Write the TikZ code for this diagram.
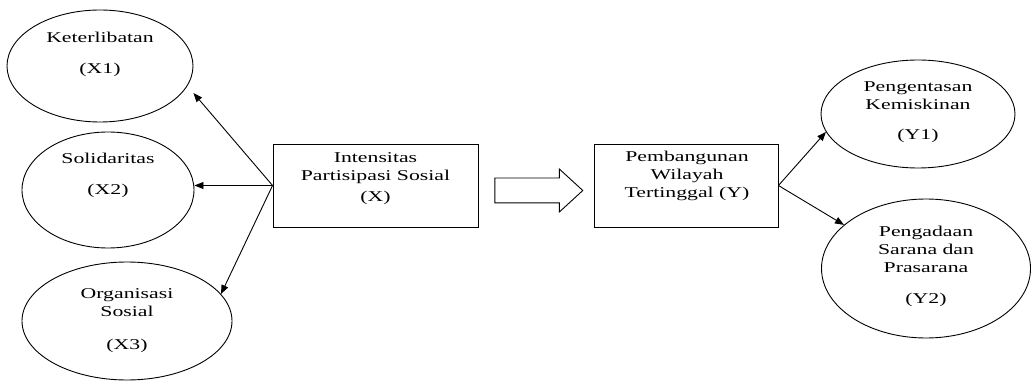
\documentclass[tikz,border=0pt]{standalone}
\usepackage{fontspec}
\setmainfont{Liberation Serif}[FakeStretch=1.45]
\usetikzlibrary{shapes.geometric,shapes.arrows,arrows.meta}
\begin{document}
\begin{tikzpicture}[x=1pt,y=-1pt,
  ell/.style={draw, ellipse, line width=0.9pt, inner sep=0pt},
  box/.style={draw, rectangle, line width=0.9pt, inner sep=0pt},
  lbl/.style={align=center, font=\fontsize{15}{18}\selectfont, inner sep=0pt},
  conn/.style={line width=0.9pt, -{Triangle[length=9pt,width=7pt]}}]
\useasboundingbox[fill=white] (0,0) rectangle (1032,387);
% ellipses
\node[ell, minimum width=186pt, minimum height=112pt] (x1) at (100,66) {};
\node[ell, minimum width=172pt, minimum height=116pt] (x2) at (108,190) {};
\node[ell, minimum width=210pt, minimum height=118pt] (x3) at (127,321) {};
\node[ell, minimum width=194pt, minimum height=108pt] (y1) at (918,114) {};
\node[ell, minimum width=209pt, minimum height=139pt] (y2) at (926,268.5) {};
% boxes
\node[box, minimum width=205pt, minimum height=83pt] (xb) at (375.5,185.5) {};
\node[box, minimum width=184pt, minimum height=83pt] (yb) at (686,185.5) {};
% block arrow
\node[draw, single arrow, single arrow head extend=9pt, single arrow tip angle=85,
      inner xsep=0pt, inner ysep=12pt, minimum height=88pt, line width=0.9pt] (ba) at (532,190.5) {};
% labels
\node[lbl] (x1t) at (100,54.5) {Keterlibatan\\[13pt](X1)};
\node[lbl] (x2t) at (108,175.5) {Solidaritas\\[13pt](X2)};
\node[lbl] (x3t) at (127,321) {Organisasi\\Sosial\\[15pt](X3)};
\node[lbl] (xbt) at (375.5,178.5) {Intensitas\\Partisipasi Sosial\\[3pt](X)};
\node[lbl] (ybt) at (687,175.5) {Pembangunan\\Wilayah\\Tertinggal (Y)};
\node[lbl] (y1t) at (918,112) {Pengentasan\\Kemiskinan\\[12pt](Y1)};
\node[lbl] (y2t) at (926,266.5) {Pengadaan\\Sarana dan\\Prasarana\\[13pt](Y2)};
% connectors
\draw[conn] (xb.west) -- ([yshift=-27pt]x1.east);
\draw[conn] (xb.west) -- (xb.west -| x2.east);
\draw[conn] (xb.west) -- (x3.16);
\draw[conn] (yb.east) -- (y1.191);
\draw[conn] (yb.east) -- (y2.152);
\end{tikzpicture}
\end{document}
